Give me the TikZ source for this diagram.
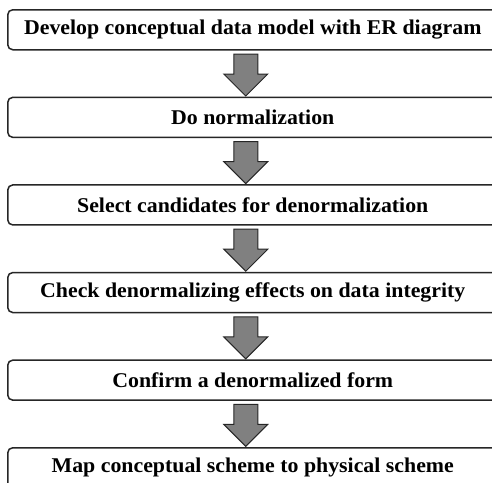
\documentclass[tikz,border=0pt]{standalone}
\usepackage{fontspec}
\setmainfont[FakeStretch=1.04]{Liberation Serif}
\begin{document}
\begin{tikzpicture}[x=1pt,y=1pt,
  stepbox/.style={draw=black!85, line width=1.5pt, rounded corners=5pt,
    minimum width=490pt, minimum height=40pt, inner sep=0pt, anchor=north west,
    font=\fontsize{21}{25}\selectfont\bfseries},
  barrow/.style={draw=black!85, line width=1pt, fill=black!50}]
\useasboundingbox[fill=white] (0,0) rectangle (492,-482);
\node[stepbox] (b1) at (7,-9) {Develop conceptual data model with ER diagram};
\node[stepbox] (b2) at (7,-96.6) {Do normalization};
\node[stepbox] (b3) at (7,-184.2) {Select candidates for denormalization};
\node[stepbox] (b4) at (7,-271.8) {Check denormalizing effects on data integrity};
\node[stepbox] (b5) at (7,-359.4) {Confirm a denormalized form};
\node[stepbox] (b6) at (7,-447) {Map conceptual scheme to physical scheme};
\foreach \a in {b1,b2,b3,b4,b5}{
  \draw[barrow] ([shift={(-19,-3.5)}]\a.south) -- ++(24,0) -- ++(0,-20) -- ++(10,0)
    -- ++(-22,-22) -- ++(-22,22) -- ++(10,0) -- cycle;
}
\end{tikzpicture}
\end{document}
